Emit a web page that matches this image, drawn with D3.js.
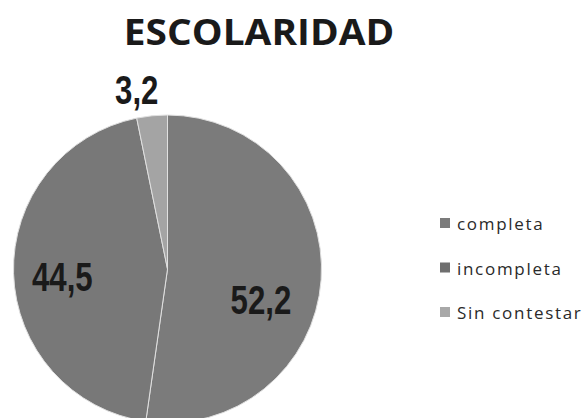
<!DOCTYPE html>
<html><head><meta charset="utf-8">
<script src="https://cdn.jsdelivr.net/npm/d3@7"></script>
<style>body{margin:0;background:#fff;overflow:hidden}</style>
</head><body>
<svg id="c" width="588" height="418"></svg>
<script>
const categories = ["completa", "incompleta", "Sin contestar"];
const values = [52.2, 44.5, 3.2];
const labels = ["52,2", "44,5", "3,2"];
const title = "ESCOLARIDAD";

const colors = ["#7b7b7b", "#787878", "#a4a4a4"];
const legendColors = ["#7b7b7b", "#6f6f6f", "#a8a8a8"];
const labelRadiusFactor = [0.66, 0.69, 1.15];
const labelNudge = [[-8, 23], [1, 4], [-13, -3]];

const svg = d3.select("#c");
const cx = 167.5, cy = 269, r = 154;

svg.append("g").attr("transform", "translate(259,45) scale(1.11,1)")
  .append("text").attr("x", 0).attr("y", 0).attr("text-anchor", "middle")
  .attr("font-family", "Open Sans").attr("font-weight", 700).attr("font-size", 35)
  .attr("fill", "#1a1a1a").text(title);

const pie = d3.pie().sort(null).value(d => d)
  .startAngle(0).endAngle(2 * Math.PI);
const arcs = pie(values);
const arc = d3.arc().innerRadius(0).outerRadius(r);
const g = svg.append("g").attr("transform", `translate(${cx},${cy})`);
g.selectAll("path").data(arcs).join("path")
  .attr("d", arc).attr("fill", (d, i) => colors[i])
  .attr("stroke", "#e0e0e0").attr("stroke-width", 1);

g.selectAll("g.lbl").data(arcs).join("g").attr("class", "lbl")
  .attr("transform", (d, i) => {
    const a = (d.startAngle + d.endAngle) / 2;
    const rr = r * labelRadiusFactor[i];
    const x = Math.sin(a) * rr + labelNudge[i][0];
    const y = -Math.cos(a) * rr + labelNudge[i][1];
    return `translate(${x},${y}) scale(0.78,1)`;
  })
  .append("text").attr("dy", "0.36em")
  .attr("text-anchor", "middle")
  .attr("font-family", "Liberation Sans, Arial, sans-serif")
  .attr("font-weight", 700).attr("font-size", 40).attr("fill", "#1a1a1a")
  .text((d, i) => labels[i]);

const lg = svg.append("g").attr("transform", "translate(440,218)");
const items = lg.selectAll("g").data(categories).join("g")
  .attr("transform", (d, i) => `translate(0,${i * 44.5})`);
items.append("rect").attr("width", 10).attr("height", 10).attr("fill", (d, i) => legendColors[i]);
items.append("text").attr("x", 17).attr("y", 12)
  .attr("font-family", "Open Sans").attr("font-size", 17).attr("letter-spacing", 1.7)
  .attr("fill", "#2a2a2a").text(d => d);
</script>
</body></html>
